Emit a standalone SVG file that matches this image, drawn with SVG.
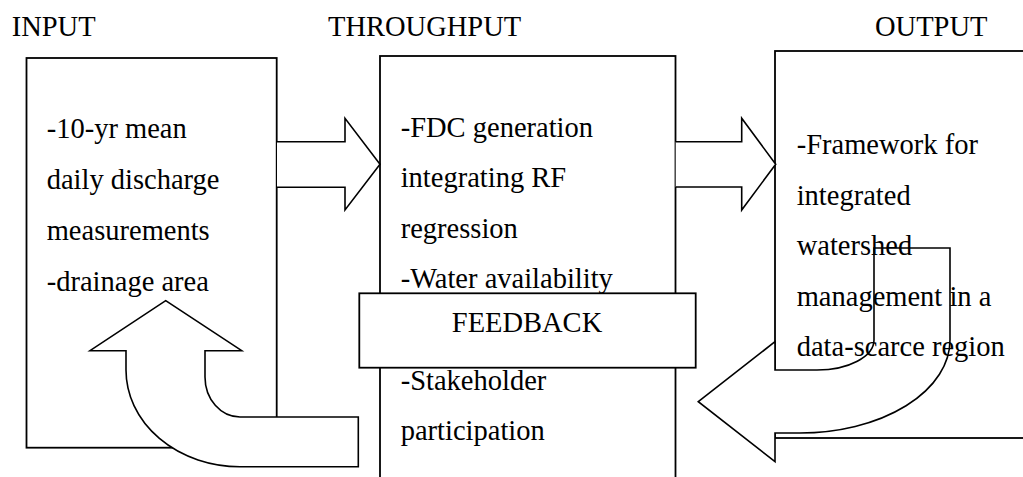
<svg xmlns="http://www.w3.org/2000/svg" width="1023" height="477" viewBox="0 0 1023 477">
<style>
.box{fill:#fff;stroke:#000;stroke-width:1.8}
.arr{fill:#fff;stroke:#000;stroke-width:1.6;stroke-linejoin:miter}
text{font-family:"Liberation Serif","Times New Roman",serif;font-size:28.5px;fill:#000}
.mid{text-anchor:middle}
</style>
<rect width="1023" height="477" fill="#fff"/>
<g id="input-node">
<rect class="box" x="26.5" y="58" width="250.2" height="389.7"/>
</g>
<g id="throughput-node">
<rect class="box" x="380" y="56" width="295.5" height="450"/>
</g>
<g id="output-node">
<rect class="box" x="775" y="51" width="300" height="387"/>
</g>
<g id="connectors">
<path class="arr" d="M277,141.7 L345,141.7 L345,118.3 L380,164.3 L345,210 L345,187.3 L277,187.3"/>
<path class="arr" d="M675.7,141.7 L741.7,141.7 L741.7,118.3 L775.7,164.3 L741.7,210 L741.7,187 L675.7,187"/>
<path class="arr" d="M165.7,300.7 L241.7,350.7 L205,350.7 L205,377 A35,40 0 0 0 240,417 L358.3,417 L358.3,466.7 L240,466.7 A114,96.7 0 0 1 126,370 L126,350.7 L90,350.7 Z"/>
<path class="arr" d="M698.3,401.7 L775,341.7 L775,370 L817,370 A57,30 0 0 0 874,340 L874,248 L950,248 L950,340 A150,93 0 0 1 800,433 L775,433 L775,461.7 Z"/>
</g>
<g id="feedback-node">
<rect class="box" x="359.3" y="293.3" width="336.4" height="74.4"/>
<text class="mid" x="527" y="331.7">FEEDBACK</text>
</g>
<g id="titles">
<text x="11.7" y="35.5">INPUT</text>
<text x="328" y="35.5">THROUGHPUT</text>
<text x="875" y="35.5">OUTPUT</text>
</g>
<g id="input-text">
<text x="46.7" y="138.3">-10-yr mean</text>
<text x="46.7" y="189.3">daily discharge</text>
<text x="46.7" y="240.3">measurements</text>
<text x="46.7" y="291">-drainage area</text>
</g>
<g id="throughput-text">
<text x="400.7" y="136.7">-FDC generation</text>
<text x="400.7" y="187.2">integrating RF</text>
<text x="400.7" y="237.7">regression</text>
<text x="400.7" y="288.2">-Water availability</text>
<text x="400.7" y="390">-Stakeholder</text>
<text x="400.7" y="440">participation</text>
</g>
<g id="output-text">
<text x="796.7" y="154.3">-Framework for</text>
<text x="796.7" y="204.8">integrated</text>
<text x="796.7" y="255.3">watershed</text>
<text x="796.7" y="305.8">management in a</text>
<text x="796.7" y="356.3">data-scarce region</text>
</g>
</svg>
